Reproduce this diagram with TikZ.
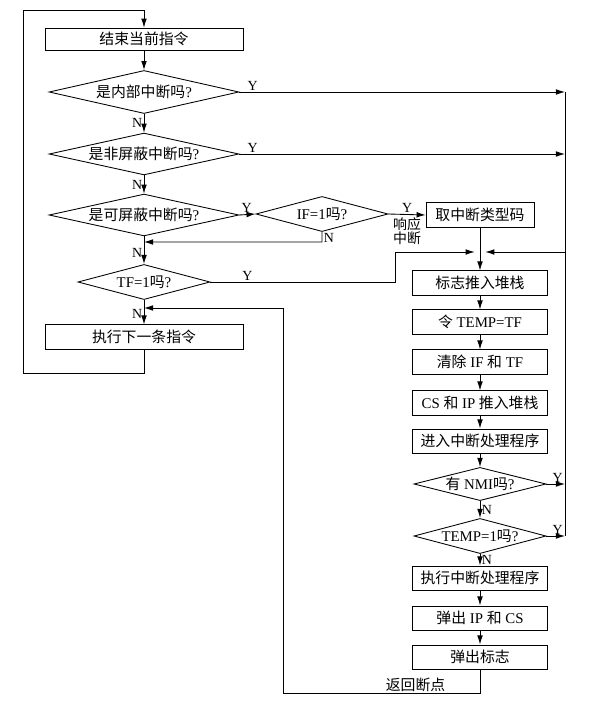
\documentclass[tikz,border=0pt]{standalone}
\usepackage{fontspec}
\setmainfont{Liberation Serif}
\newfontfamily\cjk{Noto Sans CJK SC}
\usetikzlibrary{shapes.geometric,arrows.meta}

\begin{document}
\begin{tikzpicture}[x=0.0265cm,y=-0.0265cm, % 1 px = 0.0265 cm, y vers le bas
  line width=0.65pt,
  >={Latex[length=2.4mm,width=1.5mm]},
  boite/.style={draw,rectangle,minimum height=0.64cm,inner sep=1pt,font=\fontsize{11.2}{12}\selectfont},
  losange/.style={draw,diamond,inner sep=0pt,aspect=4.4,font=\fontsize{11.2}{12}\selectfont},
  lettre/.style={font=\fontsize{10.5}{12}\selectfont,inner sep=1pt}]

% --------- PARAMÈTRES ----------
\def\xg{144}       % axe de la colonne gauche
\def\xd{480}       % axe de la colonne droite
\def\xr{565}       % ligne verticale à droite
\def\largg{5.25cm} % largeur des boîtes à gauche
\def\largd{3.6cm}  % largeur des boîtes à droite
% --------------------------------

\useasboundingbox (0,0) rectangle (612,707);

% Colonne gauche
\node[boite,minimum width=\largg,minimum height=0.58cm] (fin) at (\xg,39) {\cjk 结束当前指令};
\node[losange,minimum width=5.03cm,minimum height=1.14cm] (qint) at (\xg,92) {{\cjk 是内部中断吗}?};
\node[losange,minimum width=5.03cm,minimum height=1.11cm] (qnmi) at (\xg,154) {{\cjk 是非屏蔽中断吗}?};
\node[losange,minimum width=5.03cm,minimum height=1.11cm] (qmask) at (\xg,215) {{\cjk 是可屏蔽中断吗}?};
\node[losange,minimum width=3.5cm,minimum height=0.93cm] (qif) at (322,214) {IF=1{\cjk 吗}?};
\node[losange,minimum width=3.5cm,minimum height=0.93cm] (qtf) at (\xg,282) {TF=1{\cjk 吗}?};
\node[boite,minimum width=\largg] (suite) at (\xg,337) {\cjk 执行下一条指令};

% Colonne droite
\node[boite,minimum width=2.86cm] (type) at (\xd,215) {\cjk 取中断类型码};
\node[boite,minimum width=\largd] (pile) at (\xd,283) {\cjk 标志推入堆栈};
\node[boite,minimum width=\largd] (temp) at (\xd,322) {{\cjk 令} TEMP=TF};
\node[boite,minimum width=\largd] (clr) at (\xd,362) {{\cjk 清除} IF {\cjk 和} TF};
\node[boite,minimum width=\largd] (csip) at (\xd,403) {CS {\cjk 和} IP {\cjk 推入堆栈}};
\node[boite,minimum width=\largd] (entree) at (\xd,441) {\cjk 进入中断处理程序};
\node[losange,aspect=3.6,minimum width=3.5cm,minimum height=0.88cm] (qnmi2) at (\xd,484) {{\cjk 有} NMI{\cjk 吗}?};
\node[losange,aspect=3.6,minimum width=3.5cm,minimum height=0.93cm] (qtemp) at (\xd,536) {TEMP=1{\cjk 吗}?};
\node[boite,minimum width=\largd] (exec) at (\xd,578) {\cjk 执行中断处理程序};
\node[boite,minimum width=\largd] (popcs) at (\xd,618) {{\cjk 弹出} IP {\cjk 和} CS};
\node[boite,minimum width=\largd] (popf) at (\xd,657) {\cjk 弹出标志};

% Points de passage
\coordinate (bouclebas) at (23,373);
\coordinate (bouclehaut) at (23,10);
\coordinate (ifnon) at (\xg,242);
\coordinate (tfcoude) at (395,252);
\coordinate (fusion) at (\xd,252);
\coordinate (ligne) at (\xr,252);
\coordinate (retbas) at (283,693);
\coordinate (retour) at (\xg,308);

% Flèches colonne gauche
\draw[->] (suite.south) |- (bouclebas) -- (bouclehaut) -| (fin.north);
\draw[->] (fin) -- (qint);
\draw[->] (qint) -- node[lettre,left] {N} (qnmi);
\draw[->] (qnmi) -- node[lettre,left] {N} (qmask);
\draw[->] (qmask) -- node[lettre,left,pos=0.6] {N} (qtf);
\draw[->] (qtf) -- node[lettre,left,pos=0.55] {N} (suite);
\draw[->] (qmask.east) -- node[lettre,above,pos=0.45] {Y} (qif.west);
\draw[->] (qif.south) -- ++(0,10) node[lettre,right,pos=0.6] {N} -- (ifnon);
\draw[->] (qif.east) -- node[lettre,above] {Y}
  node[below,font=\fontsize{10.5}{11}\selectfont,align=center,inner sep=2pt] {\cjk 响应\\\cjk 中断} (type.west);

% Vers la ligne de droite
\draw[->] (qint.east) -- node[lettre,above,pos=0.02,anchor=south west] {Y} (qint.east -| ligne);
\draw[->] (qnmi.east) -- node[lettre,above,pos=0.02,anchor=south west] {Y} (qnmi.east -| ligne);
\draw (qint.east -| ligne) -- (qtemp.east -| ligne);
\draw[->] (qnmi2.east) -- node[lettre,above,pos=0.6] {Y} (qnmi2.east -| ligne);
\draw[->] (qtemp.east) -- node[lettre,above,pos=0.6] {Y} (qtemp.east -| ligne);

% Fusion au-dessus de la pile
\draw[->,shorten >=4pt] (qtf.east) -- node[lettre,above,pos=0.2] {Y} (qtf.east -| tfcoude) -- (tfcoude) -- (fusion);
\draw[->,shorten >=4pt] (ligne) -- (fusion);
\draw[->] (type) -- (pile);

% Colonne droite
\draw[->] (pile) -- (temp);
\draw[->] (temp) -- (clr);
\draw[->] (clr) -- (csip);
\draw[->] (csip) -- (entree);
\draw[->] (entree) -- (qnmi2);
\draw[->] (qnmi2) -- node[lettre,right] {N} (qtemp);
\draw[->] (qtemp) -- node[lettre,right] {N} (exec);
\draw[->] (exec) -- (popcs);
\draw[->] (popcs) -- (popf);

% Retour au programme
\draw[->] (popf.south) |- (retbas) |- (retour);
\node[font=\fontsize{11.2}{12}\selectfont,anchor=south east,inner sep=1pt] (retlbl) at (447,694) {\cjk 返回断点};

\end{tikzpicture}
\end{document}
